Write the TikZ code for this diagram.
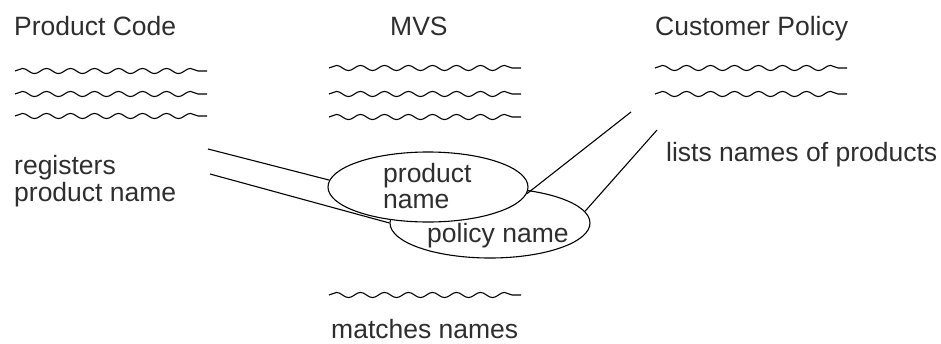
\documentclass[tikz,border=0pt]{standalone}
\usepackage{fontspec}
\setmainfont{Liberation Sans}
\usetikzlibrary{shapes.geometric,decorations.pathmorphing}
\definecolor{ink}{gray}{0.18}
\begin{document}
\begin{tikzpicture}[x=1pt,y=-1pt,
  lbl/.style={font=\fontsize{26.5}{28}\selectfont, text=ink, inner sep=0, anchor=base west},
  wave/.style={line width=1.1pt, decorate, decoration={snake, segment length=24pt, amplitude=2.6pt, pre length=0pt, post length=0pt}},
  conn/.style={line width=1.1pt},
  oval/.style={draw, ellipse, line width=1.1pt, inner sep=0, minimum width=200pt, minimum height=70pt}]
\useasboundingbox (0,0) rectangle (941,343);

% titles
\node[lbl] (pct) at (14,35) {Product Code};
\node[lbl] (mvst) at (390,35) {MVS};
\node[lbl] (cpt) at (655,35) {Customer Policy};

% wavy lines
\coordinate (pa1) at (15,71);  \coordinate (pb1) at (207,71);
\coordinate (pa2) at (15,94);  \coordinate (pb2) at (207,94);
\coordinate (pa3) at (15,116); \coordinate (pb3) at (207,116);
\coordinate (ma1) at (329,68);  \coordinate (mb1) at (521,68);
\coordinate (ma2) at (329,94);  \coordinate (mb2) at (521,94);
\coordinate (ma3) at (329,117); \coordinate (mb3) at (521,117);
\coordinate (ca1) at (655,68);  \coordinate (cb1) at (847,68);
\coordinate (ca2) at (655,94);  \coordinate (cb2) at (847,94);
\coordinate (ma4) at (329,295); \coordinate (mb4) at (521,295);
\foreach \a/\b in {pa1/pb1,pa2/pb2,pa3/pb3,ma1/mb1,ma2/mb2,ma3/mb3,ca1/cb1,ca2/cb2,ma4/mb4}
  \draw[wave] (\a) -- (\b);

% side texts
\node[lbl] (reg1) at (14,174) {registers};
\node[lbl] (reg2) at (14,201) {product name};
\node[lbl] (lists) at (666,161) {lists names of products};
\node[lbl] (match) at (331,338) {matches names};

% ellipses
\node[oval] (pol) at (490,223) {};
\node[oval, fill=white] (prod) at (428,187) {};
\node[lbl] (prodt1) at (383,182) {product};
\node[lbl] (prodt2) at (383,208) {name};
\node[lbl] (polt) at (427,242) {policy name};

% connectors
\coordinate (r1) at (208,149);
\coordinate (r2) at (210,174);
\coordinate (l1) at (631,112);
\coordinate (l2) at (657,130);
\draw[conn] (r1) -- (prod.176);
\draw[conn] (r2) -- (pol.west);
\draw[conn] (l1) -- (prod.-4);
\draw[conn] (l2) -- (pol.7);
\end{tikzpicture}
\end{document}
